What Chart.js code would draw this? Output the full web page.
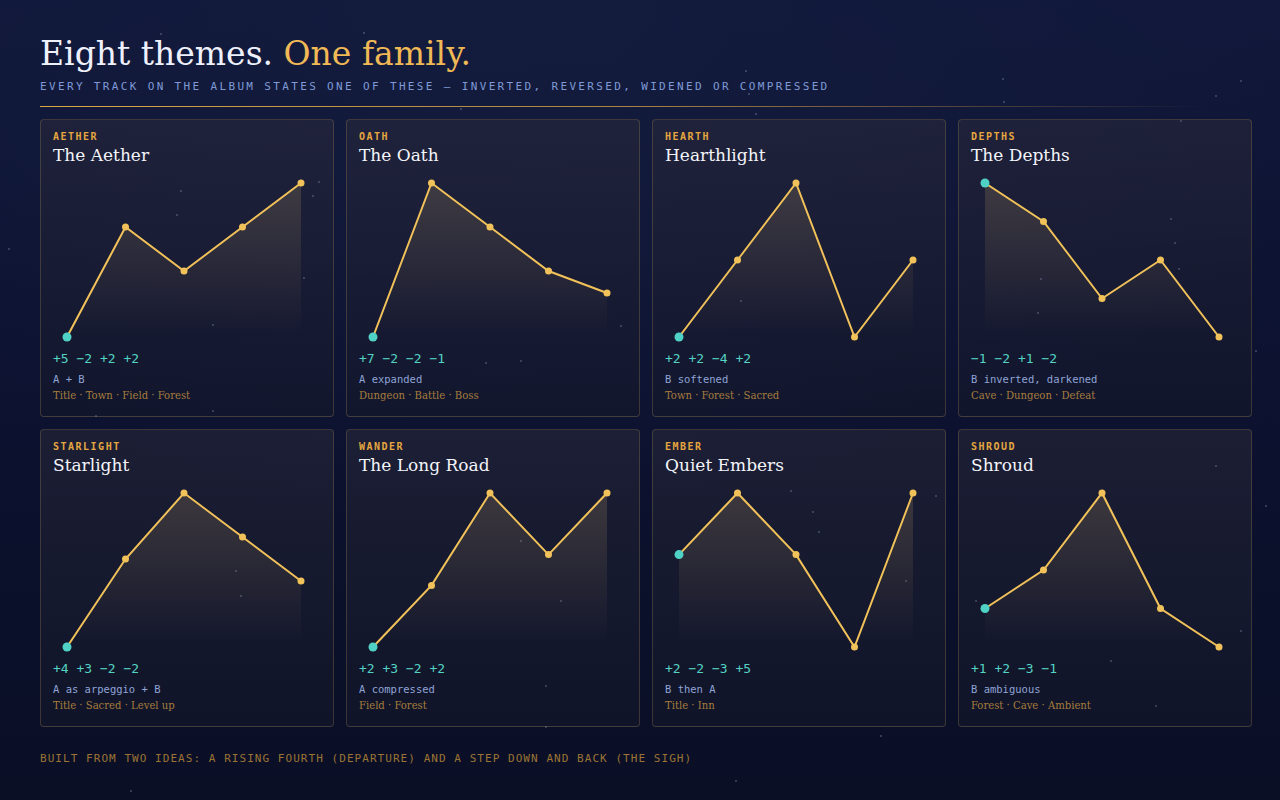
<!DOCTYPE html>
<html>
<head>
<meta charset="utf-8">
<script src="https://cdn.jsdelivr.net/npm/chart.js@4"></script>
<style>
  html,body{margin:0;padding:0;}
  body{width:1280px;height:800px;overflow:hidden;position:relative;
    background:radial-gradient(ellipse 900px 500px at 500px 0px,#141c3e 0%,rgba(20,28,62,0) 100%),
               linear-gradient(180deg,#10173a 0%,#0c1230 45%,#0a0f26 100%);
    font-family:"DejaVu Serif",serif;}
  .star{position:absolute;width:2px;height:2px;border-radius:1px;background:rgba(170,180,210,0.35);}
  h1{position:absolute;left:40px;top:32px;margin:0;font-weight:normal;font-size:33px;line-height:44px;color:#eef1fb;font-family:"DejaVu Serif",serif;white-space:nowrap;}
  h1 span{color:#f0b955;}
  .sub{position:absolute;left:40px;top:79px;font-family:"DejaVu Sans Mono",monospace;font-size:11px;letter-spacing:2.35px;color:#7f9ad6;white-space:nowrap;line-height:16px;}
  .rule{position:absolute;left:40px;top:106px;width:1170px;height:0;border-top:1px solid #dca744;
    -webkit-mask-image:linear-gradient(90deg,#000 0%,rgba(0,0,0,0.75) 50%,rgba(0,0,0,0) 100%);
    mask-image:linear-gradient(90deg,#000 0%,rgba(0,0,0,0.75) 50%,rgba(0,0,0,0) 100%);}
  .card{position:absolute;width:292px;height:296px;border:1px solid rgba(150,125,80,0.33);border-radius:4px;
    background:linear-gradient(180deg,rgba(42,42,58,0.55) 0%,rgba(22,24,42,0.55) 100%);box-sizing:content-box;}
  .lab{position:absolute;left:12px;top:11px;font-family:"DejaVu Sans Mono",monospace;font-weight:bold;font-size:10px;letter-spacing:1.5px;color:#e6a640;line-height:12px;}
  .ttl{position:absolute;left:12px;top:23px;font-family:"DejaVu Serif",serif;font-size:17px;color:#f3f4fa;line-height:24px;white-space:nowrap;}
  .cv{position:absolute;left:-1px;top:50px;width:294px;height:175px;}
  .ivl{position:absolute;left:12px;top:230px;font-family:"DejaVu Sans Mono",monospace;font-size:13px;color:#52d3c3;line-height:18px;white-space:pre;}
  .dsc{position:absolute;left:12px;top:252px;font-family:"DejaVu Sans Mono",monospace;font-size:10.5px;color:#8fa4d6;line-height:14px;white-space:pre;}
  .tag{position:absolute;left:12px;top:268px;font-family:"DejaVu Serif Condensed","DejaVu Serif",serif;font-stretch:condensed;font-size:11.2px;color:#a67d3c;line-height:16px;white-space:nowrap;}
  .foot{position:absolute;left:40px;top:752px;font-family:"DejaVu Sans Mono",monospace;font-size:11px;letter-spacing:1.05px;color:#9c7434;white-space:nowrap;line-height:14px;}
</style>
</head>
<body>
<h1>Eight themes. <span>One family.</span></h1>
<div class="sub">EVERY TRACK ON THE ALBUM STATES ONE OF THESE — INVERTED, REVERSED, WIDENED OR COMPRESSED</div>
<div class="rule"></div>
<div id="grid"></div>
<div class="foot">BUILT FROM TWO IDEAS: A RISING FOURTH (DEPARTURE) AND A STEP DOWN AND BACK (THE SIGH)</div>
<script>
// ---- data ----
const themeKeys   = ["AETHER","OATH","HEARTH","DEPTHS","STARLIGHT","WANDER","EMBER","SHROUD"];
const themeNames  = ["The Aether","The Oath","Hearthlight","The Depths","Starlight","The Long Road","Quiet Embers","Shroud"];
const stepLabels  = ["1","2","3","4","5"];
const contours = [
  [0, 5, 3, 5, 7],
  [0, 7, 5, 3, 2],
  [0, 2, 4, 0, 2],
  [0, -1, -3, -2, -4],
  [0, 4, 7, 5, 3],
  [0, 2, 5, 3, 5],
  [0, 2, 0, -3, 2],
  [0, 1, 3, 0, -1]
];
const intervalText = ["+5 −2 +2 +2","+7 −2 −2 −1","+2 +2 −4 +2","−1 −2 +1 −2","+4 +3 −2 −2","+2 +3 −2 +2","+2 −2 −3 +5","+1 +2 −3 −1"];
const descriptions = ["A + B","A expanded","B softened","B inverted, darkened","A as arpeggio + B","A compressed","B then A","B ambiguous"];
const tagLists = ["Title · Town · Field · Forest","Dungeon · Battle · Boss","Town · Forest · Sacred","Cave · Dungeon · Defeat","Title · Sacred · Level up","Field · Forest","Title · Inn","Forest · Cave · Ambient"];

// ---- decorative stars (fixed positions) ----
const stars = [[160,33],[363,32],[745,70],[1002,78],[748,93],[1003,101],[460,108],[755,113],[180,190],[312,195],[318,181],[176,214],[8,248],[303,277],[212,324],[1240,80],[1215,95],[1180,120],[520,360],[740,300],[1170,218],[1174,242],[1178,268],[1040,278],[1037,312],[1255,350],[620,325],[485,362],[95,415],[212,410],[790,490],[812,511],[818,531],[1240,630],[905,580],[1110,660],[975,600],[1155,705],[545,685],[560,600],[545,726],[130,790],[735,780],[235,570],[240,595],[1215,465],[935,495],[1265,505],[520,540],[880,735]];
stars.forEach(([x,y])=>{const s=document.createElement('div');s.className='star';s.style.left=x+'px';s.style.top=y+'px';document.body.appendChild(s);});

// ---- cards ----
const grid = document.getElementById('grid');
const colX = [40,346,652,958], rowY = [119,429];
const gold = '#f2c25a', teal = '#4fd1c5';

themeKeys.forEach((k,i)=>{
  const c = document.createElement('div');
  c.className='card';
  c.style.left = colX[i%4]+'px';
  c.style.top = rowY[Math.floor(i/4)]+'px';
  c.innerHTML = `<div class="lab">${k}</div><div class="ttl">${themeNames[i]}</div>
    <canvas class="cv" width="294" height="175"></canvas>
    <div class="ivl">${intervalText[i]}</div><div class="dsc">${descriptions[i]}</div><div class="tag">${tagLists[i]}</div>`;
  grid.appendChild(c);
  const vals = contours[i];
  const ctx = c.querySelector('canvas');
  new Chart(ctx,{
    type:'line',
    data:{labels:stepLabels,datasets:[{
      data:vals,
      borderColor:gold,borderWidth:2,
      pointRadius:vals.map((v,j)=>j===0?4.5:3.5),
      pointBackgroundColor:vals.map((v,j)=>j===0?teal:gold),
      pointBorderWidth:0,
      tension:0,
      fill:'start',
      clip:false,
      backgroundColor:(cx)=>{
        const a = cx.chart.chartArea;
        if(!a) return 'rgba(0,0,0,0)';
        const g = cx.chart.ctx.createLinearGradient(0,a.top,0,a.bottom);
        g.addColorStop(0,'rgba(205,170,110,0.20)');
        g.addColorStop(1,'rgba(205,170,110,0)');
        return g;
      }
    }]},
    options:{
      responsive:false,animation:false,
      layout:{padding:{left:27,right:33,top:13,bottom:8}},
      plugins:{legend:{display:false},tooltip:{enabled:false}},
      scales:{
        x:{display:false,offset:false},
        y:{display:false,min:Math.min(...vals),max:Math.max(...vals)}
      }
    }
  });
});
</script>
</body>
</html>
